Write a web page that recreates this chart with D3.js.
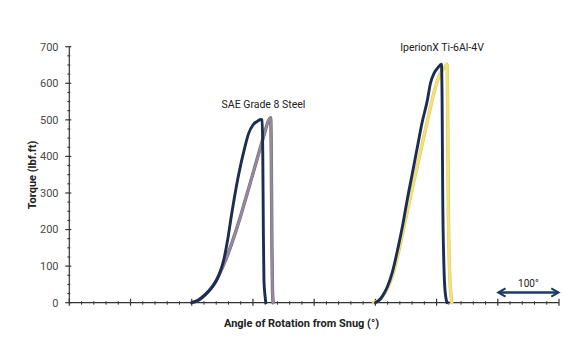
<!DOCTYPE html>
<html>
<head>
<meta charset="utf-8">
<script src="https://cdn.jsdelivr.net/npm/d3@7"></script>
<style>
  html, body { margin: 0; padding: 0; background: #ffffff; }
  svg { display: block; font-family: Roboto, "Noto Sans", sans-serif; }
</style>
</head>
<body>
<svg id="chart" width="579" height="340"></svg>
<script>
// ---- data (angle in degrees from snug, torque in lbf.ft) ----
const xTicks = [0, 100, 200, 300, 400, 500, 600, 700, 800];
const yTicks = [0, 100, 200, 300, 400, 500, 600, 700];

const steelNavyAngle  = [200, 210, 222, 232, 240, 246, 252, 258, 265, 276, 287, 293, 300, 308, 313, 315, 316, 317, 318, 320, 321];
const steelNavyTorque = [0,   6,   22,  40,  60,  82,  115, 165, 240, 345, 427, 463, 486, 497, 501, 500, 420, 200, 60,  15,  0];

const steelGrayAngle  = [200, 210, 222, 232, 240, 247, 255, 265, 279, 287, 293, 306, 317, 325, 329, 330, 331, 332, 333];
const steelGrayTorque = [0,   6,   22,  40,  60,  85,  115, 160, 232, 278, 312, 388, 452, 496, 506, 400, 150, 30,  0];

const tiNavyAngle  = [500, 507, 513, 520, 528, 537, 545, 552, 560, 568, 576, 585, 590, 596, 602, 608, 609, 610, 612, 614, 617];
const tiNavyTorque = [0,   8,   22,  45,  85,  150, 215, 281, 350, 420, 490, 554, 600, 628, 642, 652, 560, 300, 100, 30,  0];

const tiYellowAngle  = [497, 505, 512, 520, 528, 538, 547, 556, 566, 576, 586, 595, 603, 610, 615, 617, 618, 619, 621, 623, 625];
const tiYellowTorque = [0,   6,   18,  40,  75,  140, 210, 280, 355, 430, 505, 570, 615, 638, 648, 652, 560, 300, 100, 30,  0];

const labels = ["SAE Grade 8 Steel", "IperionX Ti-6Al-4V"];
const scaleBarValue = 100;
const scaleBarLabel = "100°";

// ---- layout ----
const svg = d3.select("#chart");
const x = d3.scaleLinear().domain([0, 800]).range([69.3, 559]);
const y = d3.scaleLinear().domain([0, 700]).range([302.7, 46.7]);

const axisColor = "#333333";

// y axis
const yAxis = svg.append("g");
yAxis.append("line").attr("x1", x(0)).attr("x2", x(0)).attr("y1", y(0)).attr("y2", y(700))
  .attr("stroke", axisColor).attr("stroke-width", 1.2);
const yMinor = d3.range(0, 700.1, 25).filter(v => v % 100 !== 0);
yAxis.selectAll(".ymin").data(yMinor).join("line")
  .attr("x1", x(0) - 2).attr("x2", x(0) + 1).attr("y1", d => y(d)).attr("y2", d => y(d))
  .attr("stroke", axisColor).attr("stroke-width", 1);
yAxis.selectAll(".ymaj").data(yTicks).join("line")
  .attr("x1", x(0) - 4).attr("x2", x(0) + 2).attr("y1", d => y(d)).attr("y2", d => y(d))
  .attr("stroke", axisColor).attr("stroke-width", 1.2);
yAxis.selectAll(".ylab").data(yTicks).join("text")
  .attr("x", 58.5).attr("y", d => y(d)).attr("dy", "0.35em")
  .attr("text-anchor", "end").attr("font-size", 11).attr("fill", "#4a4a4a")
  .text(d => d);

// x axis
const xAxis = svg.append("g");
xAxis.append("line").attr("x1", x(0)).attr("x2", x(800)).attr("y1", y(0)).attr("y2", y(0))
  .attr("stroke", axisColor).attr("stroke-width", 1.2);
const xMinor = d3.range(0, 800.1, 20).filter(v => v % 100 !== 0);
xAxis.selectAll(".xmin").data(xMinor).join("line")
  .attr("x1", d => x(d)).attr("x2", d => x(d)).attr("y1", y(0) - 1.5).attr("y2", y(0) + 2)
  .attr("stroke", axisColor).attr("stroke-width", 1);
xAxis.selectAll(".xmaj").data(xTicks).join("line")
  .attr("x1", d => x(d)).attr("x2", d => x(d)).attr("y1", y(0) - 4).attr("y2", y(0) + 3)
  .attr("stroke", axisColor).attr("stroke-width", 1.2);

// axis titles
svg.append("text").attr("x", 301.5).attr("y", 327)
  .attr("text-anchor", "middle").attr("font-size", 11).attr("font-weight", "bold").attr("fill", "#222")
  .text("Angle of Rotation from Snug (°)");
svg.append("text").attr("transform", "translate(35.5,175) rotate(-90)")
  .attr("text-anchor", "middle").attr("font-size", 11).attr("font-weight", "bold").attr("fill", "#222")
  .text("Torque (lbf.ft)");

// curves
const line = d3.line().x(d => x(d[0])).y(d => y(d[1])).curve(d3.curveMonotoneX);
const zip = (a, b) => a.map((v, i) => [v, b[i]]);

const series = [
  { pts: zip(steelGrayAngle, steelGrayTorque), color: "#958a9b", edge: "#74697c" },
  { pts: zip(steelNavyAngle, steelNavyTorque), color: "#1b2d52", edge: null },
  { pts: zip(tiYellowAngle, tiYellowTorque), color: "#f5e176", edge: "#dcc85e" },
  { pts: zip(tiNavyAngle, tiNavyTorque), color: "#1b2d52", edge: null }
];
series.forEach(s => {
  if (s.edge) {
    svg.append("path").attr("d", line(s.pts)).attr("fill", "none")
      .attr("stroke", s.edge).attr("stroke-width", 3.4).attr("stroke-linejoin", "round").attr("stroke-linecap", "round");
  }
  svg.append("path").attr("d", line(s.pts)).attr("fill", "none")
    .attr("stroke", s.color).attr("stroke-width", s.edge ? 2.4 : 2.9)
    .attr("stroke-linejoin", "round").attr("stroke-linecap", "round");
});

// annotations
svg.append("text").attr("x", 263.5).attr("y", 108).attr("text-anchor", "middle")
  .attr("font-size", 10.5).attr("fill", "#222").text(labels[0]);
svg.append("text").attr("x", 442).attr("y", 51).attr("text-anchor", "middle")
  .attr("font-size", 10.5).attr("fill", "#222").text(labels[1]);

// 100° scale bar (double arrow)
const ax0 = x(800 - scaleBarValue), ax1 = x(800), ay = 292.5;
const defs = svg.append("defs");
defs.append("marker").attr("id", "ah").attr("viewBox", "0 0 10 10").attr("refX", 7).attr("refY", 5)
  .attr("markerWidth", 4).attr("markerHeight", 4).attr("orient", "auto-start-reverse")
  .append("path").attr("d", "M1,1 L8,5 L1,9").attr("fill", "none").attr("stroke", "#1b3a66").attr("stroke-width", 2);
svg.append("line").attr("x1", ax0 + 1.5).attr("x2", ax1 - 1.5).attr("y1", ay).attr("y2", ay)
  .attr("stroke", "#1b3a66").attr("stroke-width", 2.6)
  .attr("marker-start", "url(#ah)").attr("marker-end", "url(#ah)");
svg.append("text").attr("x", (ax0 + ax1) / 2).attr("y", 287).attr("text-anchor", "middle")
  .attr("font-size", 10).attr("fill", "#222").text(scaleBarLabel);
</script>
</body>
</html>
